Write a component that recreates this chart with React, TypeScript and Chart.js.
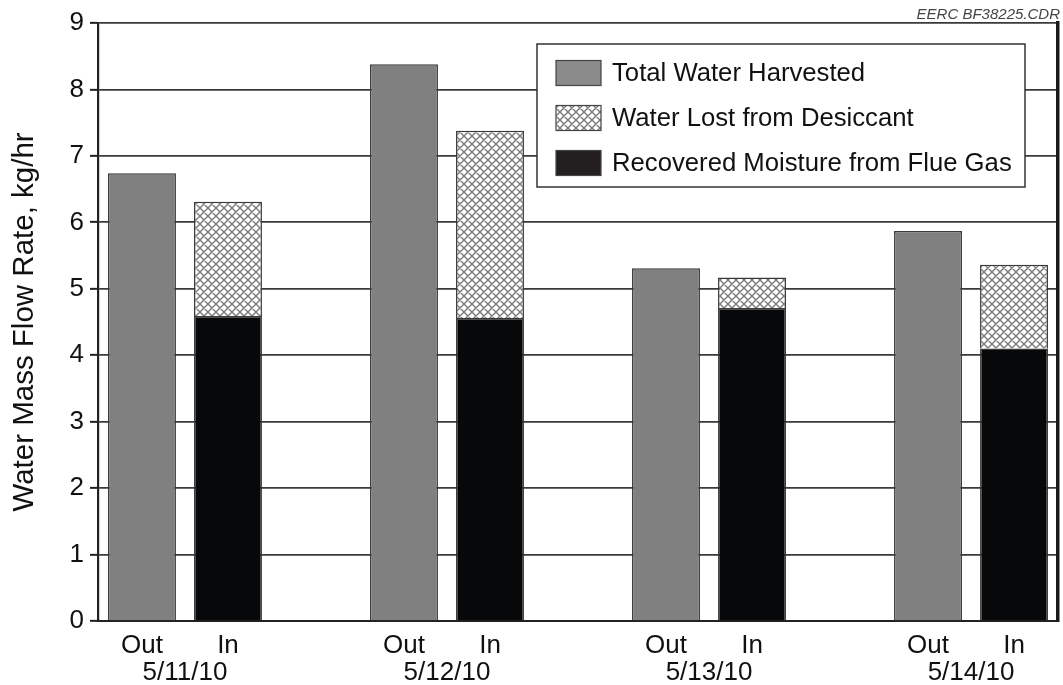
import React, { useEffect, useRef } from 'react';
import { Chart, registerables } from 'chart.js';

Chart.register(...registerables);

// ---- data ----
const dates = ['5/11/10', '5/12/10', '5/13/10', '5/14/10'];
const stackLabels = ['Out', 'In'];
const totalHarvested = [6.74, 8.38, 5.31, 5.87];
const recoveredMoisture = [4.59, 4.56, 4.71, 4.1];
const waterLost = [1.72, 2.82, 0.46, 1.26];
const yTickMax = 9;

const seriesNames = {
  total: 'Total Water Harvested',
  lost: 'Water Lost from Desiccant',
  recovered: 'Recovered Moisture from Flue Gas',
};

// ---- layout constants ----
const CAT_PCT = 0.6565;
const BAR_PCT = 0.79;
const X_MIN = -0.332;
const X_MAX = 3.332;
const FONT = "'Liberation Sans', Arial, Helvetica, sans-serif";

function makeHatch(ctx: CanvasRenderingContext2D) {
  const s = 8;
  const pc = document.createElement('canvas');
  pc.width = s;
  pc.height = s;
  const p = pc.getContext('2d') as CanvasRenderingContext2D;
  p.fillStyle = '#ffffff';
  p.fillRect(0, 0, s, s);
  p.strokeStyle = '#7a7a7a';
  p.lineWidth = 1.4;
  p.beginPath();
  for (const dx of [-s, 0, s]) {
    p.moveTo(dx, 0);
    p.lineTo(dx + s, s);
    p.moveTo(dx + s, 0);
    p.lineTo(dx, s);
  }
  p.stroke();
  return ctx.createPattern(pc, 'repeat') as CanvasPattern;
}

const boxLegend = {
  id: 'boxLegend',
  afterDraw(chart: any) {
    const ctx: CanvasRenderingContext2D = chart.ctx;
    const ca = chart.chartArea;
    ctx.save();
    // watermark
    ctx.font = `italic 15px ${FONT}`;
    ctx.fillStyle = '#444';
    ctx.textAlign = 'right';
    ctx.textBaseline = 'alphabetic';
    ctx.fillText('EERC BF38225.CDR', ca.right + 2, ca.top - 4);

    const bx = ca.right - 521;
    const by = ca.top + 21;
    const bw = 488;
    const bh = 143;
    ctx.fillStyle = '#ffffff';
    ctx.fillRect(bx, by, bw, bh);
    ctx.strokeStyle = '#333';
    ctx.lineWidth = 1.5;
    ctx.strokeRect(bx, by, bw, bh);
    const order = [0, 2, 1];
    order.forEach((di, r) => {
      const ds = chart.data.datasets[di];
      const cy = by + 29 + r * 45;
      const sx = bx + 19;
      ctx.fillStyle = ds.legendColor || ds.backgroundColor;
      ctx.fillRect(sx, cy - 12.5, 45, 25);
      ctx.strokeStyle = '#444';
      ctx.lineWidth = 1.2;
      ctx.strokeRect(sx, cy - 12.5, 45, 25);
      ctx.fillStyle = '#111';
      ctx.font = `25.7px ${FONT}`;
      ctx.textAlign = 'left';
      ctx.textBaseline = 'middle';
      ctx.fillText(ds.label, sx + 56, cy + 1);
    });
    ctx.restore();
  },
};

export default function App() {
  const ref = useRef<HTMLCanvasElement>(null);
  useEffect(() => {
    document.body.style.margin = '0';
    const canvas = ref.current as HTMLCanvasElement;
    const ctx = canvas.getContext('2d') as CanvasRenderingContext2D;
    const hatch = makeHatch(ctx);
    const pts = (arr: number[]) => arr.map((v, i) => ({ x: i, y: v }));
    const chart = new Chart(ctx, {
      type: 'bar',
      data: {
        datasets: [
          {
            label: seriesNames.total,
            data: pts(totalHarvested),
            stack: 'out',
            backgroundColor: '#7f807f',
            legendColor: '#8a8b8a',
            borderColor: '#3a3a3a',
            borderWidth: 1.5,
          } as any,
          {
            label: seriesNames.recovered,
            data: pts(recoveredMoisture),
            stack: 'in',
            backgroundColor: '#07080a',
            legendColor: '#231f20',
            borderColor: '#3a3a3a',
            borderWidth: 1.5,
          } as any,
          {
            label: seriesNames.lost,
            data: pts(waterLost),
            stack: 'in',
            backgroundColor: hatch,
            borderColor: '#3a3a3a',
            borderWidth: 1.5,
          } as any,
        ],
      },
      options: {
        responsive: false,
        animation: false,
        devicePixelRatio: 1,
        datasets: { bar: { categoryPercentage: CAT_PCT, barPercentage: BAR_PCT } },
        layout: { padding: { top: 23, right: 2, bottom: 0, left: 0 } },
        plugins: { legend: { display: false }, tooltip: { enabled: false } },
        scales: {
          x: {
            type: 'linear',
            position: 'bottom',
            weight: 2,
            min: X_MIN,
            max: X_MAX,
            offset: false,
            afterBuildTicks: (s: any) => {
              s.ticks = dates.map((_, i) => ({ value: i }));
            },
            ticks: {
              callback: (_v: any, i: number) => dates[i],
              font: { family: FONT, size: 26 },
              color: '#111',
              padding: 3,
              maxRotation: 0,
              autoSkip: false,
            },
            grid: { display: true, drawOnChartArea: false, drawTicks: false },
            border: { display: false },
            afterFit: (s: any) => {
              s.height = 31;
            },
          },
          xio: {
            type: 'linear',
            position: 'bottom',
            weight: 1,
            min: X_MIN,
            max: X_MAX,
            offset: false,
            afterBuildTicks: (s: any) => {
              s.ticks = dates.flatMap((_, i) => [
                { value: i - CAT_PCT / 4 },
                { value: i + CAT_PCT / 4 },
              ]);
            },
            ticks: {
              callback: (_v: any, i: number) => stackLabels[i % 2],
              font: { family: FONT, size: 26 },
              color: '#111',
              padding: 9,
              maxRotation: 0,
              autoSkip: false,
            },
            grid: { display: true, drawOnChartArea: false, drawTicks: false },
            border: { display: true, color: '#222', width: 2 },
            afterFit: (s: any) => {
              s.height = 33;
            },
          },
          y: {
            type: 'linear',
            position: 'left',
            min: 0,
            max: yTickMax,
            stacked: true,
            ticks: {
              stepSize: 1,
              font: { family: FONT, size: 26 },
              color: '#111',
              padding: 6,
            },
            grid: {
              color: '#3a3a3a',
              lineWidth: 1.7,
              tickLength: 8,
              tickColor: '#222',
              tickWidth: 2,
            },
            border: { color: '#222', width: 2.2 },
            title: {
              display: true,
              text: 'Water Mass Flow Rate, kg/hr',
              font: { family: FONT, size: 29.5 },
              color: '#111',
              padding: { top: 7, bottom: 0 },
            },
            afterFit: (s: any) => {
              s.width = 98;
            },
          },
          y2: {
            type: 'linear',
            position: 'right',
            min: 0,
            max: yTickMax,
            ticks: { display: false },
            grid: { display: true, drawOnChartArea: false, drawTicks: false },
            border: { display: true, color: '#1a1a1a', width: 3.5 },
            afterFit: (s: any) => {
              s.width = 3;
            },
          },
        },
      } as any,
      plugins: [boxLegend],
    });
    return () => chart.destroy();
  }, []);
  return (
    <div style={{ width: 1063, height: 685 }}>
      <canvas ref={ref} width={1063} height={685} style={{ display: 'block' }} />
    </div>
  );
}
